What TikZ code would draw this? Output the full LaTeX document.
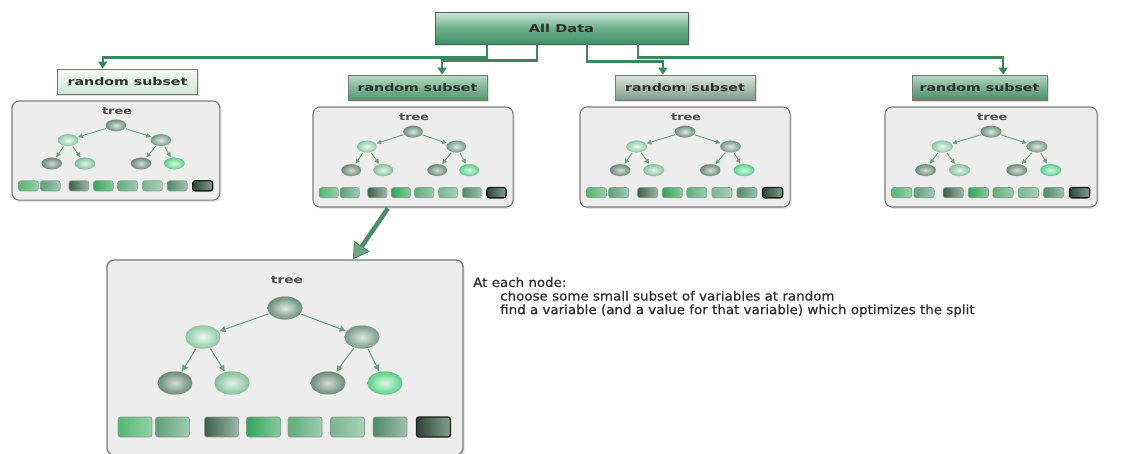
\documentclass[tikz,border=0pt]{standalone}
\usepackage{fontspec}
\setmainfont{DejaVu Sans}
\newfontfamily\lblfont[FakeStretch=1.35]{DejaVu Sans}
\newfontfamily\notefont[FakeStretch=1.05,FakeBold=0.6]{DejaVu Sans}
\usetikzlibrary{arrows.meta,shadows,calc,shapes.geometric}
\definecolor{cConn}{HTML}{3A875C}
\definecolor{cText}{HTML}{2E2E2E}
\definecolor{cFrame}{HTML}{7C7C7C}
\definecolor{cFrameFill}{HTML}{ECEDEC}
\definecolor{cEdge}{HTML}{6A9E82}
\definecolor{cBig}{HTML}{4E8D69}
\definecolor{cBigHead}{HTML}{6EA686}
\definecolor{cBoxDraw}{HTML}{777777}
\definecolor{cAllDraw}{HTML}{52615A}
% ball colours
\definecolor{bRootIn}{HTML}{DCEAE1}\definecolor{bRootOut}{HTML}{6C8C7A}
\definecolor{bLIn}{HTML}{EEFBF3}\definecolor{bLOut}{HTML}{8CC9A3}
\definecolor{bRIn}{HTML}{DDEAE2}\definecolor{bROut}{HTML}{76998A}
\definecolor{bGrIn}{HTML}{D3DFD8}\definecolor{bGrOut}{HTML}{6A8878}
\definecolor{bLRIn}{HTML}{E6F6EC}\definecolor{bLROut}{HTML}{84BF9C}
\definecolor{bRRIn}{HTML}{DDFCE8}\definecolor{bRROut}{HTML}{58CF88}
% square colours
\definecolor{q1l}{HTML}{55B673}\definecolor{q1r}{HTML}{93D2A5}
\definecolor{q2l}{HTML}{5E9E78}\definecolor{q2r}{HTML}{A0CBB1}
\definecolor{q3l}{HTML}{3D5E4B}\definecolor{q3r}{HTML}{9DB7A8}
\definecolor{q4l}{HTML}{2FA55B}\definecolor{q4r}{HTML}{8AC99D}
\definecolor{q5l}{HTML}{5EAD7C}\definecolor{q5r}{HTML}{9DCCAE}
\definecolor{q6l}{HTML}{78B690}\definecolor{q6r}{HTML}{AAD1B8}
\definecolor{q7l}{HTML}{4E8967}\definecolor{q7r}{HTML}{A0BFAD}
\definecolor{q8l}{HTML}{2B4536}\definecolor{q8r}{HTML}{82A08F}
\definecolor{qDraw}{HTML}{8FA196}\definecolor{qDark}{HTML}{1E1E1E}
% box colours
\definecolor{aTop}{HTML}{CDE8D8}\definecolor{aMid}{HTML}{6DB08B}\definecolor{aBot}{HTML}{3E8E66}
\definecolor{s1Top}{HTML}{F5FBF5}\definecolor{s1Bot}{HTML}{D2E8D5}
\definecolor{s2Top}{HTML}{B9DBC6}\definecolor{s2Mid}{HTML}{7DB896}\definecolor{s2Bot}{HTML}{4E986E}
\definecolor{s3Top}{HTML}{DCE5DF}\definecolor{s3Mid}{HTML}{AFC2B6}\definecolor{s3Bot}{HTML}{7E9A8A}
\definecolor{s4Top}{HTML}{B6D6C3}\definecolor{s4Mid}{HTML}{7AB293}\definecolor{s4Bot}{HTML}{4B8E67}
\tikzset{
  lbl/.style={font=\lblfont\bfseries\fontsize{10.5}{12}\selectfont, text=cText},
  databox/.style={lbl, draw=cBoxDraw, line width=0.8pt, minimum height=25pt, inner sep=0pt,
    drop shadow={opacity=0.25, shadow xshift=1.5pt, shadow yshift=-1.5pt}},
  conn/.style={draw=cConn, line width=2.2pt, -{Triangle[length=7pt,width=9pt]}},
  bigarrow/.style={draw=cBig, line width=4.5pt, -{Triangle[length=16pt,width=19pt,line width=1pt,fill=cBigHead]}},
  notes/.style={font=\notefont\fontsize{12.8}{13.6}\selectfont, text=cText, align=left, inner sep=0pt},
  tframe/.style={draw=cFrame, fill=cFrameFill, line width=1.3pt, rounded corners=7pt,
    minimum width=356pt, minimum height=195pt, inner sep=0pt, transform shape,
    drop shadow={opacity=0.2, shadow xshift=1.8pt, shadow yshift=-1.8pt}},
  tlabel/.style={font=\lblfont\bfseries\fontsize{10.2}{12}\selectfont, text=cText!85, inner sep=0pt},
  tball/.style={ellipse, minimum width=35pt, minimum height=23pt, inner sep=0pt, transform shape,
    draw=black!40, draw opacity=0.35, line width=0.5pt},
  tsq/.style={rectangle, rounded corners=2.5pt, minimum width=34pt, minimum height=20pt, inner sep=0pt,
    transform shape, draw=qDraw, line width=0.7pt},
  tedge/.style={draw=cEdge, line width=1pt, shorten >=1pt, shorten <=1pt, -{Triangle[length=6pt,width=6pt]}},
  pics/treebox/.style={code={
    \node[tframe] (-frame) at (178,97.5) {};
    \node[tlabel] (-label) at (180,20) {tree};
    \node[tball, inner color=bRootIn, outer color=bRootOut] (-root) at (178,48) {};
    \node[tball, inner color=bLIn, outer color=bLOut] (-L) at (96,77) {};
    \node[tball, inner color=bRIn, outer color=bROut] (-R) at (255,77) {};
    \node[tball, inner color=bGrIn, outer color=bGrOut] (-LL) at (68,123) {};
    \node[tball, inner color=bLRIn, outer color=bLROut] (-LR) at (125,123) {};
    \node[tball, inner color=bGrIn, outer color=bGrOut] (-RL) at (221,123) {};
    \node[tball, inner color=bRRIn, outer color=bRROut] (-RR) at (278,123) {};
    \draw[tedge] (-root) -- (-L);
    \draw[tedge] (-root) -- (-R);
    \draw[tedge] (-L) -- (-LL);
    \draw[tedge] (-L) -- (-LR);
    \draw[tedge] (-R) -- (-RL);
    \draw[tedge] (-R) -- (-RR);
    \node[tsq, left color=q1l, right color=q1r] (-s1) at (28,167) {};
    \node[tsq, left color=q2l, right color=q2r] (-s2) at (65.5,167) {};
    \node[tsq, left color=q3l, right color=q3r] (-s3) at (114.5,167) {};
    \node[tsq, left color=q4l, right color=q4r] (-s4) at (156.5,167) {};
    \node[tsq, left color=q5l, right color=q5r] (-s5) at (198,167) {};
    \node[tsq, left color=q6l, right color=q6r] (-s6) at (240.5,167) {};
    \node[tsq, left color=q7l, right color=q7r] (-s7) at (283,167) {};
    \node[tsq, draw=qDark, line width=1.4pt, left color=q8l, right color=q8r] (-s8) at (326.5,167) {};
  }},
  smalltree/.style={tlabel/.append style={font=\lblfont\bfseries\fontsize{9.6}{11}\selectfont},
    tedge/.append style={line width=0.9pt, -{Triangle[length=4.5pt,width=4.5pt]}},
    tframe/.append style={line width=1.1pt}}
}
\begin{document}
\begin{tikzpicture}[x=1pt,y=-1pt]
\useasboundingbox (0,0) rectangle (1145,453);
\fill[white] (0,0) rectangle (1145,453);
\clip (0,0) rectangle (1145,453);

% top box
\node[databox, draw=cAllDraw, minimum width=253pt, minimum height=32pt,
  top color=aTop, bottom color=aBot, middle color=aMid,
  font=\lblfont\bfseries\fontsize{10.8}{12}\selectfont] (all) at (561.5,28) {All Data};

% subset boxes
\node[databox, minimum width=140pt, top color=s1Top, bottom color=s1Bot] (sub1) at (127.5,81.5) {random subset};
\node[databox, minimum width=139pt, top color=s2Top, bottom color=s2Bot, middle color=s2Mid] (sub2) at (417.5,87.5) {random subset};
\node[databox, minimum width=140pt, top color=s3Top, bottom color=s3Bot, middle color=s3Mid] (sub3) at (685,87.5) {random subset};
\node[databox, minimum width=135pt, top color=s4Top, bottom color=s4Bot, middle color=s4Mid] (sub4) at (979.5,87.5) {random subset};

% tree boxes
\pic[smalltree, xscale=0.584, yscale=0.508] (t1) at (12,101) {treebox};
\pic[smalltree, xscale=0.562, yscale=0.513] (t2) at (313,107) {treebox};
\pic[smalltree, xscale=0.590, yscale=0.513] (t3) at (580,107) {treebox};
\pic[smalltree, xscale=0.596, yscale=0.513] (t4) at (885,107) {treebox};
\pic (tb) at (107,260) {treebox};

% connectors from All Data
\coordinate (a1) at ($(all.south west)!0.206!(all.south east)$);
\coordinate (a2) at ($(all.south west)!0.403!(all.south east)$);
\coordinate (a3) at ($(all.south west)!0.601!(all.south east)$);
\coordinate (a4) at ($(all.south west)!0.802!(all.south east)$);
\draw[conn] (a1) -- ++(0,13) -| ($(sub1.north west)!0.324!(sub1.north east)$);
\draw[conn] (a2) -- ++(0,16) -| ($(sub2.north west)!0.676!(sub2.north east)$);
\draw[conn] (a3) -- ++(0,17) -| ($(sub3.north west)!0.343!(sub3.north east)$);
\draw[conn] (a4) -- ++(0,13) -| ($(sub4.north west)!0.674!(sub4.north east)$);

% zoom arrow
\draw[bigarrow] ($(t2-frame.south west)!0.375!(t2-frame.south east)+(0,1)$) -- ($(tb-frame.north west)!0.69!(tb-frame.north east)$);

% notes
\node[notes, anchor=north west] (note) at (473,277) {At each node:\\\hspace*{27pt}choose some small subset of variables at random\\\hspace*{27pt}find a variable (and a value for that variable) which optimizes the split};
\end{tikzpicture}
\end{document}
